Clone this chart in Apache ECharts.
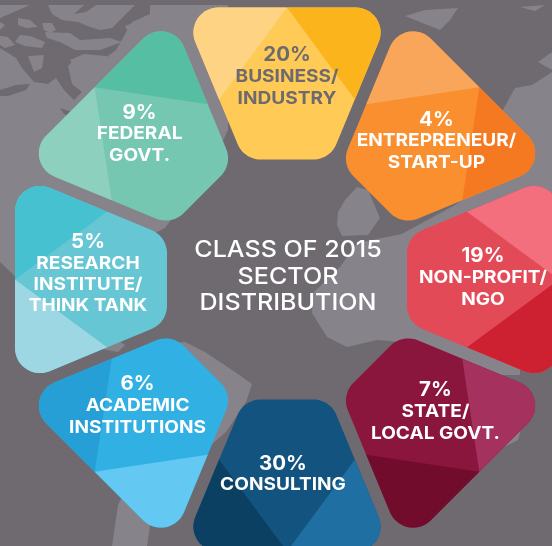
<!DOCTYPE html>
<html><head><meta charset="utf-8">
<style>html,body{margin:0;padding:0;background:#6E6A70}#c{width:552px;height:546px}</style>
<script src="https://cdn.jsdelivr.net/npm/echarts@6/dist/echarts.min.js"></script>
</head><body><div id="c"></div>
<script>
// ---- data ----
const categories = ['BUSINESS/INDUSTRY','ENTREPRENEUR/START-UP','NON-PROFIT/NGO','STATE/LOCAL GOVT.','CONSULTING','ACADEMIC INSTITUTIONS','RESEARCH INSTITUTE/THINK TANK','FEDERAL GOVT.'];
const percents = [20, 4, 19, 7, 30, 6, 5, 9];
const labelLines = [
  ['BUSINESS/','INDUSTRY'],['ENTREPRENEUR/','START-UP'],['NON-PROFIT/','NGO'],['STATE/','LOCAL GOVT.'],
  ['CONSULTING'],['ACADEMIC','INSTITUTIONS'],['RESEARCH','INSTITUTE/','THINK TANK'],['FEDERAL','GOVT.']
];
const titleLines = ['CLASS OF 2015','SECTOR','DISTRIBUTION'];

// ---- styles: [outer-left facet, centre, outer-right facet] ----
const facetColors = [
  ['#FFD384','#FFCA55','#FBB41B'],['#F9A55A','#F98F2F','#F57921'],['#F36F7D','#E34A58','#CD2030'],
  ['#A5315F','#8B163D','#720C2D'],['#1F6FA3','#12537F','#0B4063'],['#63C9F3','#31B0E3','#259FD6'],
  ['#9DD7E3','#66C6D3','#46C1CF'],['#8DD0BD','#75C7B2','#56BEA3']
];
const textColors = ['#6D6A6F','#fff','#fff','#fff','#fff','#fff','#fff','#fff'];
const labelShift = [[0,-2.5],[8,3],[-4,-1.5],[7,-9],[-4,-5],[-8,-15],[1,-5.5],[-6,-4]];
const FONT = 'Inter, "Open Sans", sans-serif';
const R_OUT = 272, R_IN = 120, W_OUT = 106, W_IN = 43, CORNER = 25, R_SIDE = 180, R_LABEL = 200;

function norm(v){const l=Math.hypot(v[0],v[1]);return [v[0]/l,v[1]/l];}
function corner(A, P, B, rad) {
  const ua = norm([A[0]-P[0],A[1]-P[1]]), ub = norm([B[0]-P[0],B[1]-P[1]]);
  const ang = Math.acos(ua[0]*ub[0]+ua[1]*ub[1]);
  const d = rad/Math.tan(ang/2);
  const s = [P[0]+ua[0]*d,P[1]+ua[1]*d], e = [P[0]+ub[0]*d,P[1]+ub[1]*d];
  const bis = norm([ua[0]+ub[0],ua[1]+ub[1]]), h = rad/Math.sin(ang/2);
  const c = [P[0]+bis[0]*h,P[1]+bis[1]*h];
  const a0 = Math.atan2(s[1]-c[1],s[0]-c[0]), a1 = Math.atan2(e[1]-c[1],e[0]-c[0]);
  let da = a1-a0; while(da>Math.PI)da-=2*Math.PI; while(da<-Math.PI)da+=2*Math.PI;
  const out=[]; for(let i=0;i<=14;i++){const a=a0+da*i/14; out.push([c[0]+rad*Math.cos(a),c[1]+rad*Math.sin(a)]);}
  return out;
}
const OL=[-W_OUT,R_OUT],OR=[W_OUT,R_OUT],IL=[-W_IN,R_IN],IR=[W_IN,R_IN];
const sideT = W_IN+(R_SIDE-R_IN)*(W_OUT-W_IN)/(R_OUT-R_IN);
const apex=[0,R_OUT], sideL=[-sideT,R_SIDE], sideR=[sideT,R_SIDE];
const cOL=corner(IL,OL,OR,CORNER), cOR=corner(OL,OR,IR,CORNER), cIR=corner(OR,IR,IL,CORNER), cIL=corner(IR,IL,OL,CORNER);
const outline=[...cOL,...cOR,...cIR,...cIL];
const facetL=[apex,...cOL.slice().reverse(),sideL];
const facetR=[apex,...cOR,sideR];

function renderPetal(params, api) {
  const i = api.value(0);
  const c = api.coord([0,i]), o = api.coord([R_OUT,i]);
  const u = [(o[0]-c[0])/R_OUT,(o[1]-c[1])/R_OUT], v=[-u[1],u[0]];
  const toXY = p => [c[0]+u[0]*p[1]+v[0]*p[0], c[1]+u[1]*p[1]+v[1]*p[0]];
  const poly=(pts,fill)=>({type:'polygon',shape:{points:pts.map(toXY)},style:{fill}});
  const cols=facetColors[i];
  const children=[poly(outline,cols[1]),poly(facetL,cols[0]),poly(facetR,cols[2])];
  const a=api.coord([R_LABEL,i]), cx=a[0]+labelShift[i][0], cy=a[1]+labelShift[i][1];
  const lines=[api.value(1)+'%',...labelLines[i]], step=21.4;
  lines.forEach((t,k)=>children.push({type:'text',z2:5,
    x:cx,y:cy+(k-(lines.length-1)/2)*step,scaleX:k===0?1.05:1.09,
    style:{text:t,x:0,y:0,align:'center',verticalAlign:'middle',
    fill:textColors[i],font:(k===0?'700 19.5px ':'700 17.5px ')+FONT}}));
  return {type:'group',children};
}

// ---- decorative world map behind the chart ----
const LAND='#87838A', SEA='#6E6A70';
const land=[
 [[0,5],[228,5],[228,130],[212,165],[165,228],[130,245],[118,300],[110,335],[125,345],[118,352],[80,345],[40,300],[0,262]],
 [[150,345],[185,342],[205,352],[235,372],[252,384],[246,402],[226,432],[205,450],[180,490],[150,525],[147,546],[112,546],[118,505],[135,470],[130,400]],
 [[338,212],[345,200],[357,187],[368,190],[380,218],[368,235],[342,236],[337,225]],
 [[407,233],[357,243],[340,267],[313,293],[312,313],[327,337],[347,347],[377,340],[400,342],[440,350],[475,365],[500,375],[520,375],[520,300],[470,230]],
 [[500,115],[515,88],[532,85],[552,72],[552,205],[440,250],[400,235],[455,205],[490,180]],
 [[405,16],[425,10],[458,8],[450,20],[440,30],[420,22]],
 [[520,7],[545,5],[535,11]],
 [[538,62],[552,52],[552,70]],
 [[491,428],[512,415],[526,410],[518,440],[500,449],[490,445]]
];
// arctic sea over the land, then the islands on top of it
const arctic=[
 [[0,18],[30,5],[150,5],[150,14],[132,22],[124,36],[116,50],[100,62],[90,58],[76,58],[68,66],[72,84],[82,92],[74,100],[64,90],[56,78],[48,84],[34,82],[22,68],[16,58],[0,48]],
 [[0,90],[16,85],[30,84],[26,90],[8,96],[0,96]],
 [[60,108],[72,112],[74,118],[64,114]]
];
const islands=[
 [[48,5],[84,5],[74,14],[86,12],[96,5],[135,5],[125,15],[112,28],[100,30],[90,27],[78,22],[62,20],[52,14]],
 [[18,18],[30,20],[38,27],[26,28],[18,25]],
 [[42,23],[52,23],[56,30],[50,33],[44,30]],
 [[0,22],[5,25],[0,30]],
 [[125,26],[140,20],[153,18],[155,25],[143,32],[128,32]],
 [[45,32],[70,33],[80,40],[110,38],[122,42],[100,50],[75,50],[60,42],[47,38]],
 [[20,35],[30,36],[45,42],[42,48],[25,46],[15,42]],
 [[0,36],[8,37],[15,45],[5,48],[0,45]],
 [[28,56],[44,55],[42,68],[34,72]],
 [[70,60],[84,54],[106,56],[112,62],[95,66],[88,75],[76,72]]
];
const mapEl=(pts,fill,z)=>({type:'polygon',silent:true,z,shape:{points:pts},style:{fill}});
const mapElements=[
 ...land.map(p=>mapEl(p,LAND,0)),...arctic.map(p=>mapEl(p,SEA,1)),...islands.map(p=>mapEl(p,LAND,2)),
 ...titleLines.map((t,k)=>({type:'text',silent:true,z:20,x:288,y:250.5+k*26.5,scaleX:1.09,
   style:{text:t,x:0,y:0,align:'center',verticalAlign:'middle',fill:'#fff',font:'500 23px '+FONT}}))
];

const chart=echarts.init(document.getElementById('c'),null,{renderer:'canvas'});
chart.setOption({
  animation:false,
  backgroundColor:SEA,
  graphic:{elements:mapElements},
  polar:{center:[287,279.5],radius:[0,R_OUT]},
  angleAxis:{type:'category',data:categories,startAngle:90,clockwise:true,boundaryGap:false,show:false},
  radiusAxis:{type:'value',min:0,max:R_OUT,show:false},
  series:[{type:'custom',coordinateSystem:'polar',clip:false,silent:true,z:3,
    encode:{radius:1,angle:0},
    data:percents.map((p,i)=>[i,p]),renderItem:renderPetal}]
});
</script></body></html>
